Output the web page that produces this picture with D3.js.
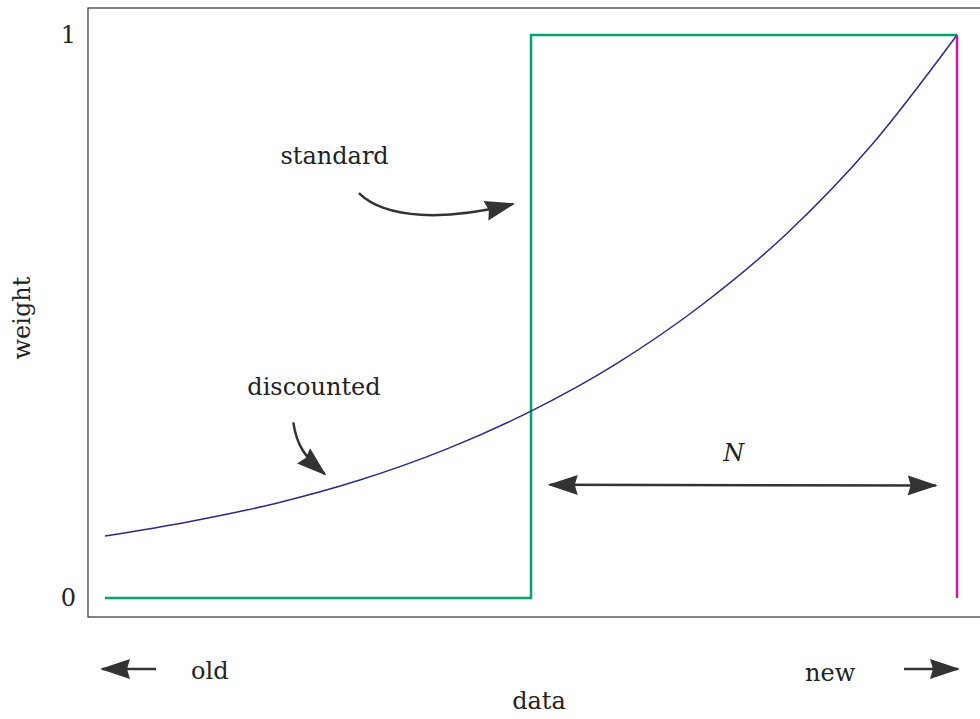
<!DOCTYPE html>
<meta charset="utf-8">
<style>
body { margin: 0; background: #fff; }
text { font-family: 'DejaVu Serif', 'Liberation Serif', serif; fill: #222; }
.lbl { font-size: 24px; }
.frame { fill: none; stroke: #333; stroke-width: 1.2; }
.arrow { fill: none; stroke: #333; stroke-width: 2.5; }
</style>
<svg id="chart" width="980" height="719"></svg>
<script src="https://d3js.org/d3.v7.min.js"></script>
<script>

// data: weight of each observation, oldest (0) to newest (10)
var steps = [0, 1, 2, 3, 4, 5, 6, 7, 8, 9, 10];
var discounted = [0.110, 0.136, 0.168, 0.210, 0.264, 0.332, 0.416, 0.520, 0.647, 0.805, 1.0];
var standardSteps = [0, 5, 10];
var standardWeights = [0, 1, 1];
var nowStep = [10, 10];
var nowWeights = [0, 1];
var yTicks = [0, 1];

var svg = d3.select("#chart");
var margin = {left: 105, right: 23, top: 35, bottom: 121};
var width = +svg.attr("width"), height = +svg.attr("height");

var x = d3.scaleLinear().domain([0, 10]).range([margin.left, width - margin.right]);
var y = d3.scaleLinear().domain([0, 1]).range([height - margin.bottom, margin.top]);

// frame (open at the right side)
svg.append("rect").attr("class", "frame")
    .attr("x", 88).attr("y", 8)
    .attr("width", 920).attr("height", 609);

// arrow heads
var defs = svg.append("defs");
defs.append("marker")
    .attr("id", "head")
    .attr("markerUnits", "userSpaceOnUse")
    .attr("viewBox", "0 -11 30 22")
    .attr("refX", 28).attr("refY", 0)
    .attr("markerWidth", 30).attr("markerHeight", 22)
    .attr("orient", "auto-start-reverse")
    .append("path")
    .attr("d", "M0,-10L30,0L0,10L3,0Z")
    .attr("fill", "#333");

// y tick labels
svg.selectAll(".tick")
    .data(yTicks)
    .enter().append("text")
    .attr("class", "lbl")
    .attr("x", 76)
    .attr("y", function(d) { return y(d); })
    .attr("dy", "0.35em")
    .attr("text-anchor", "end")
    .text(function(d) { return d; });

// standard weights (step)
var stdLine = d3.line()
    .x(function(d, i) { return x(standardSteps[i]); })
    .y(function(d) { return y(d); })
    .curve(d3.curveStepAfter);
svg.append("path")
    .datum(standardWeights)
    .attr("d", stdLine)
    .attr("fill", "none")
    .attr("stroke", "#00a572")
    .attr("stroke-width", 2.5);

// discounted weights
var discLine = d3.line()
    .x(function(d, i) { return x(steps[i]); })
    .y(function(d) { return y(d); })
    .curve(d3.curveMonotoneX);
svg.append("path")
    .datum(discounted)
    .attr("d", discLine)
    .attr("fill", "none")
    .attr("stroke", "#2b2a91")
    .attr("stroke-width", 1.5);

// newest observation
svg.append("path")
    .datum(nowWeights)
    .attr("d", d3.line()
        .x(function(d, i) { return x(nowStep[i]); })
        .y(function(d) { return y(d); }))
    .attr("fill", "none")
    .attr("stroke", "#d4149e")
    .attr("stroke-width", 2.5);

// annotations, in data coordinates
var curveArrow = function(pts) {
    var p = pts.map(function(d) { return [x(d[0]), y(d[1])]; });
    return "M" + p[0] + "C" + p[1] + " " + p[2] + " " + p[3];
};

svg.append("text").attr("class", "lbl")
    .attr("x", x(2.06)).attr("y", y(0.77))
    .text("standard");
svg.append("path").attr("class", "arrow")
    .attr("d", curveArrow([[2.98, 0.719], [3.3, 0.672], [4.0, 0.67], [4.79, 0.700]]))
    .attr("marker-end", "url(#head)");

svg.append("text").attr("class", "lbl")
    .attr("x", x(1.67)).attr("y", y(0.36))
    .text("discounted");
svg.append("path").attr("class", "arrow")
    .attr("d", curveArrow([[2.21, 0.312], [2.25, 0.27], [2.35, 0.25], [2.58, 0.22]]))
    .attr("marker-end", "url(#head)");

svg.append("text").attr("class", "lbl")
    .attr("x", x(7.38)).attr("y", y(0.244))
    .attr("text-anchor", "middle")
    .style("font-style", "italic")
    .text("N");
svg.append("line").attr("class", "arrow")
    .attr("x1", x(5.22)).attr("y1", y(0.201))
    .attr("x2", x(9.75)).attr("y2", y(0.200))
    .attr("marker-start", "url(#head)")
    .attr("marker-end", "url(#head)");

// x axis direction hints
svg.append("line").attr("class", "arrow")
    .attr("x1", 156).attr("y1", 669).attr("x2", 102).attr("y2", 669)
    .attr("marker-end", "url(#head)");
svg.append("text").attr("class", "lbl")
    .attr("x", 191).attr("y", 679).text("old");

svg.append("line").attr("class", "arrow")
    .attr("x1", 904).attr("y1", 669).attr("x2", 958).attr("y2", 669)
    .attr("marker-end", "url(#head)");
svg.append("text").attr("class", "lbl")
    .attr("x", 805).attr("y", 681).text("new");

// axis titles
svg.append("text").attr("class", "lbl")
    .attr("x", 539).attr("y", 709)
    .attr("text-anchor", "middle")
    .text("data");
svg.append("text").attr("class", "lbl")
    .attr("transform", "translate(30,318) rotate(-90)")
    .attr("text-anchor", "middle")
    .text("weight");

</script>
